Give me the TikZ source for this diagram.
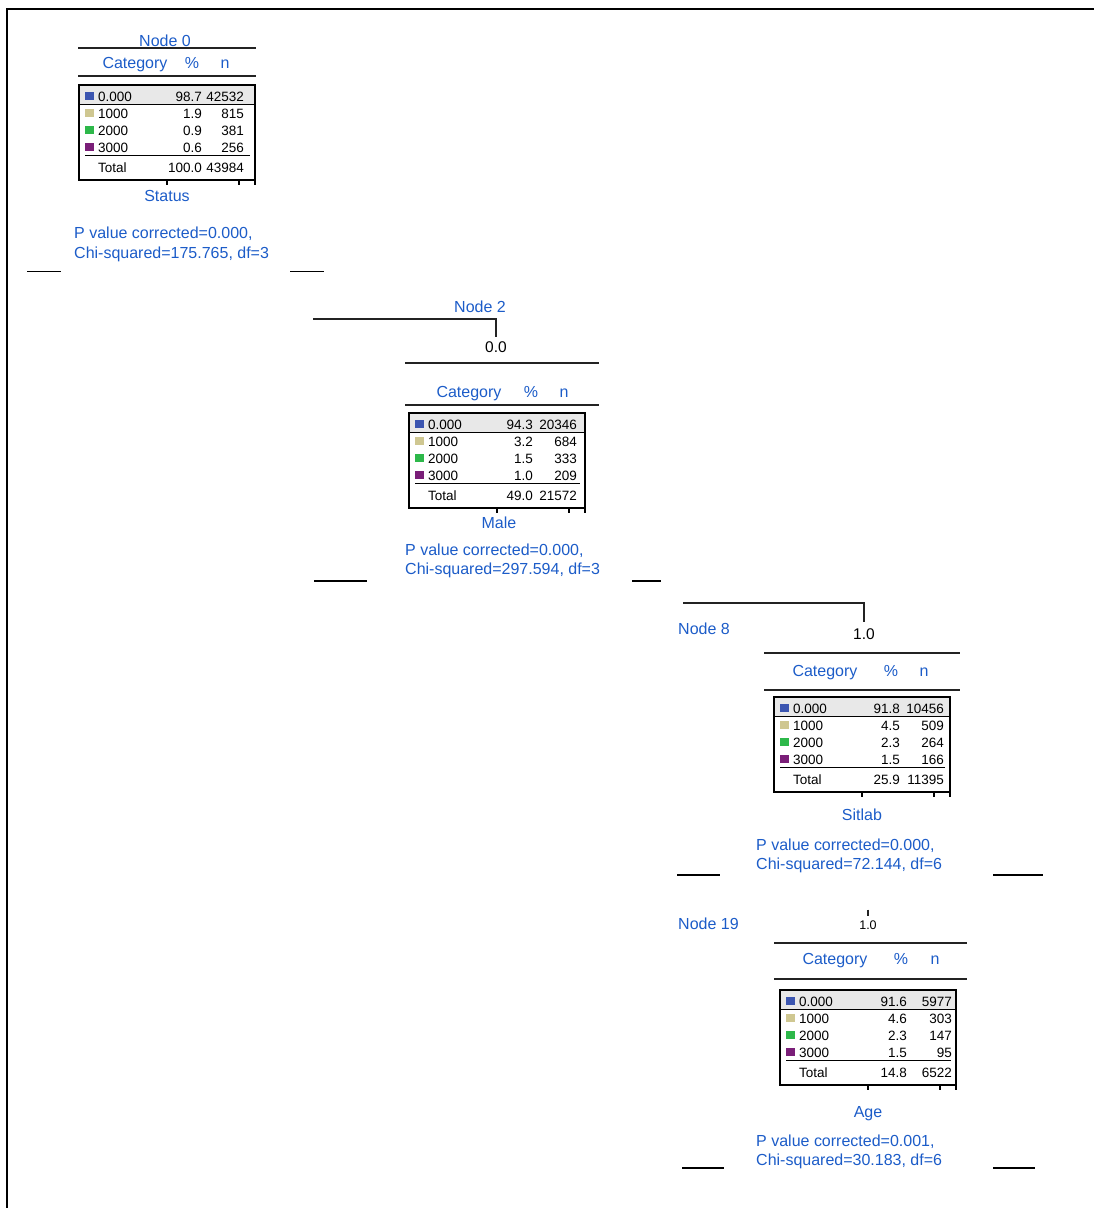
\documentclass[tikz,border=0pt]{standalone}
\usepackage{fontspec}
\setmainfont{Liberation Sans}
\definecolor{labblue}{RGB}{28,92,200}
\definecolor{swatch0}{RGB}{59,85,176}
\definecolor{swatch1}{RGB}{207,199,145}
\definecolor{swatch2}{RGB}{45,184,74}
\definecolor{swatch3}{RGB}{122,30,120}
\definecolor{rowshade}{RGB}{232,232,232}
\definecolor{linegray}{RGB}{35,35,35}
\tikzset{
  lab/.style={text=labblue, font=\fontsize{16}{18}\selectfont, inner sep=0pt, anchor=base},
  labl/.style={lab, anchor=base west},
  val/.style={text=black, font=\fontsize{15.5}{18}\selectfont, inner sep=0pt, anchor=base},
  valsmall/.style={val, font=\fontsize{12.5}{15}\selectfont},
  cell/.style={text=black, font=\fontsize{13.5}{15}\selectfont, inner sep=0pt},
  rule/.style={draw=linegray, line width=1.3pt},
  stub/.style={draw=black, line width=1.3pt},
  link/.style={draw=linegray, line width=1.3pt},
  tabframe/.style={draw=black, line width=1.5pt},
}
\newcommand{\ctab}[8]{%
  \begin{scope}[shift={(#2,#3)}]
    \fill[rowshade] (0,0) rectangle (176,19);
    \draw[line width=0.9pt] (0,19) -- (176,19);
    \foreach \lab/\p/\n [count=\i from 0] in {#6} {
      \fill[swatch\i] (6,{6.5+17*\i}) rectangle ++(8.5,8.5);
      \node[cell, anchor=west] (#1-l\i) at (19,{11.5+17*\i}) {\lab};
      \node[cell, anchor=east] (#1-p\i) at (#4,{11.5+17*\i}) {\p};
      \node[cell, anchor=east] (#1-n\i) at (#5,{11.5+17*\i}) {\n};
    }
    \draw[line width=1pt] (6,70.5) -- (171,70.5);
    \node[cell, anchor=west] (#1-lt) at (19,83) {Total};
    \node[cell, anchor=east] (#1-pt) at (#4,82.5) {#7};
    \node[cell, anchor=east] (#1-nt) at (#5,82.5) {#8};
    \draw[tabframe] (0,0) rectangle (176,95);
    \draw[tabframe] (176,95) -- (176,100) (160,95) -- (160,100) (88,95) -- (88,100);
  \end{scope}}
\begin{document}
\begin{tikzpicture}[x=1pt,y=-1pt]
\useasboundingbox (0,0) rectangle (1094,1208);
% frame
\draw[line width=2pt] (7,1208) -- (7,9) -- (1094,9);

% ---------- Node 0 ----------
\node[lab] (title0) at (165,46) {Node 0};
\draw[rule] (78,48) -- (256,48);
\node[lab] (cat0) at (135,68) {Category};
\node[lab] (pct0) at (192,68) {\%};
\node[lab] (n0) at (225,68) {n};
\draw[rule] (78,76) -- (256,76);
\ctab{t0}{79}{85}{123}{165}{0.000/98.7/42532,1000/1.9/815,2000/0.9/381,3000/0.6/256}{100.0}{43984}
\node[lab] (var0) at (167,201) {Status};
\node[labl] (pa0) at (74,238) {P value corrected=0.000,};
\node[labl] (pb0) at (74,258) {Chi-squared=175.765, df=3};
\coordinate (s0a) at (27,271.5); \coordinate (s0b) at (61,271.5);
\coordinate (s0c) at (290,271.5); \coordinate (s0d) at (324,271.5);
\draw[stub] (s0a) -- (s0b);
\draw[stub] (s0c) -- (s0d);

% ---------- Node 2 ----------
\node[lab] (title2) at (480,312) {Node 2};
\node[val] (val2) at (496,352) {0.0};
\coordinate (in2) at (313,319);
\draw[link, shorten >=3.5pt] (in2) -| (val2);
\draw[rule] (405,363) -- (599,363);
\node[lab] (cat2) at (469,397) {Category};
\node[lab] (pct2) at (531,397) {\%};
\node[lab] (n2) at (564,397) {n};
\draw[rule] (405,405) -- (599,405);
\ctab{t2}{409}{413}{124}{168}{0.000/94.3/20346,1000/3.2/684,2000/1.5/333,3000/1.0/209}{49.0}{21572}
\node[lab] (var2) at (499,528) {Male};
\node[labl] (pa2) at (405,555) {P value corrected=0.000,};
\node[labl] (pb2) at (405,574) {Chi-squared=297.594, df=3};
\coordinate (s2a) at (314,581); \coordinate (s2b) at (367,581);
\coordinate (s2c) at (632,581); \coordinate (s2d) at (661,581);
\draw[stub] (s2a) -- (s2b);
\draw[stub] (s2c) -- (s2d);

% ---------- Node 8 ----------
\node[labl] (title8) at (678,634) {Node 8};
\node[val] (val8) at (864,639) {1.0};
\coordinate (in8) at (683,603);
\draw[link, shorten >=6pt] (in8) -| (val8);
\draw[rule] (764,653) -- (960,653);
\node[lab] (cat8) at (825,676) {Category};
\node[lab] (pct8) at (891,676) {\%};
\node[lab] (n8) at (924,676) {n};
\draw[rule] (764,690) -- (960,690);
\ctab{t8}{774}{697}{126}{170}{0.000/91.8/10456,1000/4.5/509,2000/2.3/264,3000/1.5/166}{25.9}{11395}
\node[lab] (var8) at (862,820) {Sitlab};
\node[labl] (pa8) at (756,850) {P value corrected=0.000,};
\node[labl] (pb8) at (756,869) {Chi-squared=72.144, df=6};
\coordinate (s8a) at (677,875); \coordinate (s8b) at (720,875);
\coordinate (s8c) at (993,875); \coordinate (s8d) at (1043,875);
\draw[stub] (s8a) -- (s8b);
\draw[stub] (s8c) -- (s8d);

% ---------- Node 19 ----------
\node[labl] (title19) at (678,929) {Node 19};
\node[valsmall] (val19) at (868,929) {1.0};
\coordinate (in19) at (868,909.5);
\draw[link, line width=1.1pt, shorten >=4pt] (in19) -- (val19);
\draw[rule] (774,943) -- (967,943);
\node[lab] (cat19) at (835,964) {Category};
\node[lab] (pct19) at (901,964) {\%};
\node[lab] (n19) at (935,964) {n};
\draw[rule] (774,979) -- (967,979);
\ctab{t19}{780}{990}{127}{172}{0.000/91.6/5977,1000/4.6/303,2000/2.3/147,3000/1.5/95}{14.8}{6522}
\node[lab] (var19) at (868,1117) {Age};
\node[labl] (pa19) at (756,1146) {P value corrected=0.001,};
\node[labl] (pb19) at (756,1165) {Chi-squared=30.183, df=6};
\coordinate (s19a) at (682,1168); \coordinate (s19b) at (724,1168);
\coordinate (s19c) at (993,1168); \coordinate (s19d) at (1035,1168);
\draw[stub] (s19a) -- (s19b);
\draw[stub] (s19c) -- (s19d);
\end{tikzpicture}
\end{document}
